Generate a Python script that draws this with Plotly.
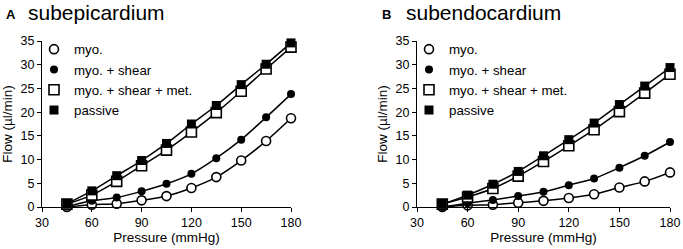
import plotly.graph_objects as go

pressure = [45, 60, 75, 90, 105, 120, 135, 150, 165, 180]

# Panel A: subepicardium
epi_myo = [0.0, 0.5, 0.7, 1.4, 2.3, 4.0, 6.3, 9.8, 13.9, 18.7]
epi_shear = [0.1, 1.3, 2.0, 3.3, 4.9, 7.0, 10.3, 14.2, 18.9, 23.8]
epi_met = [0.6, 2.5, 5.4, 8.7, 12.0, 15.8, 19.9, 24.4, 29.1, 33.7]
epi_passive = [0.7, 3.4, 6.6, 9.8, 13.4, 17.5, 21.4, 25.8, 30.1, 34.6]

# Panel B: subendocardium
endo_myo = [0.0, 0.35, 0.5, 0.9, 1.3, 1.9, 2.7, 4.1, 5.4, 7.3]
endo_shear = [0.0, 0.8, 1.5, 2.3, 3.2, 4.6, 6.0, 8.3, 10.8, 13.7]
endo_met = [0.6, 2.1, 3.9, 6.5, 9.6, 12.9, 16.3, 20.1, 24.0, 28.0]
endo_passive = [0.6, 2.5, 4.8, 7.5, 10.8, 14.2, 17.7, 21.6, 25.5, 29.4]

names = ["myo.", "myo. + shear", "myo. + shear + met.", "passive"]
x_ticks = [30, 60, 90, 120, 150, 180]
y_ticks = [0, 5, 10, 15, 20, 25, 30, 35]

styles = [
    dict(symbol="circle", size=9, color="white", line=dict(width=1.6, color="black")),
    dict(symbol="circle", size=8, color="black", line=dict(width=0, color="black")),
    dict(symbol="square", size=10, color="white", line=dict(width=1.6, color="black")),
    dict(symbol="square", size=9, color="black", line=dict(width=0, color="black")),
]

W, H = 683, 249
fig = go.Figure()

panels = [
    ("x", "y", "legend", [epi_myo, epi_shear, epi_met, epi_passive]),
    ("x2", "y2", "legend2", [endo_myo, endo_shear, endo_met, endo_passive]),
]
for xa, ya, lg, series in panels:
    for vals in series:
        fig.add_trace(go.Scatter(
            x=pressure, y=vals, mode="lines", showlegend=False,
            xaxis=xa, yaxis=ya, hoverinfo="skip",
            line=dict(color="black", width=1.5, shape="spline", smoothing=0.8),
            cliponaxis=False,
        ))
    for name, vals, st in zip(names, series, styles):
        fig.add_trace(go.Scatter(
            x=pressure, y=vals, name=name, mode="markers",
            xaxis=xa, yaxis=ya, legend=lg,
            marker=st, cliponaxis=False,
        ))

ydom = [1 - 207 / H, 1 - 41 / H]
axis_common = dict(
    showgrid=False, zeroline=False, showline=True, linecolor="black", linewidth=1.3,
    ticks="outside", ticklen=4, tickwidth=1.3, tickcolor="black",
    tickfont=dict(family="Arial", size=12.5, color="black"),
    mirror=False, automargin=False,
)
xt = dict(text="Pressure (mmHg)", font=dict(size=13.5), standoff=2)
yt = dict(text="Flow (µl/min)", font=dict(size=13.5), standoff=4)
leg = dict(yanchor="top", xanchor="left", bgcolor="rgba(0,0,0,0)",
           font=dict(size=13.3, family="Arial"), tracegroupgap=0, itemwidth=30)
fig.update_layout(
    width=W, height=H, margin=dict(l=0, r=0, t=0, b=0, autoexpand=False),
    paper_bgcolor="white", plot_bgcolor="white",
    font=dict(family="Arial", color="black"),
    xaxis=dict(domain=[42 / W, 291 / W], range=[30, 180], tickvals=x_ticks,
               title=xt, anchor="y", **axis_common),
    yaxis=dict(domain=ydom, range=[0, 35], tickvals=y_ticks,
               title=yt, anchor="x", **axis_common),
    xaxis2=dict(domain=[417 / W, 670 / W], range=[30, 180], tickvals=x_ticks,
                title=xt, anchor="y2", **axis_common),
    yaxis2=dict(domain=ydom, range=[0, 35], tickvals=y_ticks,
                title=yt, anchor="x2", **axis_common),
    legend=dict(x=34 / W, y=1 - 34 / H, **leg),
    legend2=dict(x=409 / W, y=1 - 34 / H, **leg),
    annotations=[
        dict(text="<b>A</b>", x=4 / W, y=1 - 14 / H, xref="paper", yref="paper",
             xanchor="left", yanchor="middle", showarrow=False, font=dict(size=13)),
        dict(text="subepicardium", x=26 / W, y=1 - 13 / H, xref="paper", yref="paper",
             xanchor="left", yanchor="middle", showarrow=False, font=dict(size=21)),
        dict(text="<b>B</b>", x=380 / W, y=1 - 14 / H, xref="paper", yref="paper",
             xanchor="left", yanchor="middle", showarrow=False, font=dict(size=13)),
        dict(text="subendocardium", x=404 / W, y=1 - 13 / H, xref="paper", yref="paper",
             xanchor="left", yanchor="middle", showarrow=False, font=dict(size=21)),
    ],
)

fig.write_html(
    "out.html",
    config={"displayModeBar": False},
    post_script="document.body.style.margin='0';document.body.style.overflow='hidden';",
)
